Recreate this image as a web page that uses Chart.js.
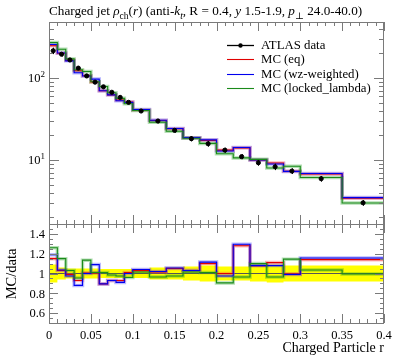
<!DOCTYPE html>
<html>
<head>
<meta charset="utf-8">
<script src="https://cdn.jsdelivr.net/npm/chart.js@4.4.0/dist/chart.umd.min.js"></script>
<style>
  html, body { margin: 0; padding: 0; background: #fff; }
  #wrap { position: relative; width: 397px; height: 358px; }
  #wrap canvas { position: absolute; left: 0; top: 0; }
</style>
</head>
<body>
<div id="wrap">
  <canvas id="mainChart" width="397" height="358"></canvas>
  <canvas id="ratioChart" width="397" height="358"></canvas>
</div>
<script>
// bin edges in r (22 bins)
var binEdges = [0, 0.01, 0.02, 0.03, 0.04, 0.05, 0.06, 0.07, 0.08, 0.09, 0.10,
                0.12, 0.14, 0.16, 0.18, 0.20, 0.22, 0.24, 0.26, 0.28, 0.30, 0.35, 0.40];

// ATLAS data, rho_ch(r)
var dataValues = [215, 195, 166, 132, 106, 89, 78, 67, 58, 50.5, 39.6,
                  29.9, 23.0, 18.2, 15.8, 13.2, 11.0, 9.27, 8.28, 7.34, 5.92, 3.01];
// relative data uncertainty (yellow band)
var dataRelErr = [0.09, 0.06, 0.05, 0.05, 0.05, 0.05, 0.045, 0.045, 0.045, 0.045, 0.045,
                  0.06, 0.06, 0.07, 0.08, 0.07, 0.07, 0.08, 0.09, 0.08, 0.08, 0.08];

// MC / data ratios
var ratioEq     = [1.15, 1.03, 0.99, 0.93, 1.005, 1.005, 0.895, 0.93, 0.93, 1.01, 1.03,
                   1.015, 1.05, 1.03, 1.10, 1.00, 1.28, 1.08, 1.11, 0.995, 1.14, 1.14];
var ratioWz     = [1.19, 1.035, 0.975, 0.88, 1.00, 1.09, 0.895, 0.93, 0.91, 1.00, 1.04,
                   1.02, 1.055, 1.03, 1.115, 0.975, 1.295, 1.08, 1.08, 0.99, 1.157, 1.157];
var ratioLocked = [1.26, 1.15, 1.03, 0.955, 1.135, 1.01, 1.01, 0.985, 0.975, 0.96, 1.015,
                   0.965, 0.975, 1.015, 1.01, 0.905, 0.965, 1.10, 0.965, 1.145, 1.035, 0.995];

var xTickLabels = ['0', '0.05', '0.1', '0.15', '0.2', '0.25', '0.3', '0.35', '0.4'];
var ratioTickLabels = ['0.6', '0.8', '1', '1.2', '1.4'];

var FONT = '"Liberation Serif", "DejaVu Serif", serif';
var FRAME = '#7a7a7a';

// stepped histogram points: one point per left edge + closing point
function stepPoints(vals) {
  var pts = vals.map(function (v, i) { return { x: binEdges[i], y: v }; });
  pts.push({ x: binEdges[binEdges.length - 1], y: vals[vals.length - 1] });
  return pts;
}
function times(a, b) { return a.map(function (v, i) { return v * b[i]; }); }
function centers() {
  return dataValues.map(function (v, i) { return (binEdges[i] + binEdges[i + 1]) / 2; });
}

function histLine(vals, color, width) {
  return {
    type: 'line', data: stepPoints(vals), stepped: true,
    borderColor: color, borderWidth: width, pointRadius: 0, fill: false
  };
}

function drawSegments(ctx, segs, x, y, size) {
  segs.forEach(function (s) {
    var sz = (s.sub || s.sup) ? size * 0.72 : size;
    ctx.font = (s.italic ? 'italic ' : '') + sz + 'px ' + FONT;
    var dy = s.sub ? size * 0.28 : (s.sup ? -size * 0.4 : 0);
    ctx.fillText(s.t, x, y + dy);
    x += ctx.measureText(s.t).width;
  });
  return x;
}

function xTicks(ctx, chart) {
  var a = chart.chartArea, xs = chart.scales.x;
  for (var i = 0; i <= 40; i++) {
    var px = Math.round(xs.getPixelForValue(i / 100)) + 0.5;
    var len = (i % 5 === 0) ? 9 : 4;
    ctx.moveTo(px, a.bottom); ctx.lineTo(px, a.bottom - len);
    ctx.moveTo(px, a.top); ctx.lineTo(px, a.top + len);
  }
}
function yTick(ctx, a, py, len) {
  py = Math.round(py) + 0.5;
  ctx.moveTo(a.left, py); ctx.lineTo(a.left + len, py);
  ctx.moveTo(a.right, py); ctx.lineTo(a.right - len, py);
}

var mainDecor = {
  id: 'mainDecor',
  afterDraw: function (chart) {
    var ctx = chart.ctx, a = chart.chartArea, ys = chart.scales.y;
    ctx.save();
    ctx.strokeStyle = FRAME; ctx.lineWidth = 1;
    ctx.strokeRect(a.left + 0.5, a.top + 0.5, a.right - a.left - 1, a.bottom - a.top);
    ctx.beginPath();
    xTicks(ctx, chart);
    for (var d = 0; d <= 2; d++) {
      for (var k = 1; k <= 9; k++) {
        var v = k * Math.pow(10, d);
        if (v < ys.min || v > ys.max) continue;
        yTick(ctx, a, ys.getPixelForValue(v), k === 1 ? 10 : 5);
      }
    }
    ctx.stroke();

    // data error bars
    ctx.beginPath();
    ctx.strokeStyle = '#000';
    var xs = chart.scales.x, c = centers();
    dataValues.forEach(function (v, i) {
      var px = Math.round(xs.getPixelForValue(c[i])) + 0.5;
      ctx.moveTo(px, ys.getPixelForValue(v * (1 + dataRelErr[i])));
      ctx.lineTo(px, ys.getPixelForValue(v * (1 - dataRelErr[i])));
    });
    ctx.stroke();

    // y tick labels
    ctx.fillStyle = '#000';
    ctx.textAlign = 'left';
    ctx.textBaseline = 'alphabetic';
    [1, 2].forEach(function (p) {
      var py = ys.getPixelForValue(Math.pow(10, p));
      drawSegments(ctx, [{ t: '10' }, { t: String(p), sup: true }], 28, py + 4, 12.5);
    });

    // title
    drawSegments(ctx, [
      { t: 'Charged jet ' }, { t: 'ρ', italic: true }, { t: 'ch', sub: true },
      { t: '(' }, { t: 'r', italic: true }, { t: ') (anti-' }, { t: 'k', italic: true },
      { t: 't', italic: true, sub: true }, { t: ', R = 0.4, ' }, { t: 'y', italic: true },
      { t: ' 1.5-1.9, ' }, { t: 'p', italic: true }, { t: '⊥', sub: true }, { t: ' 24.0-40.0)' }
    ], 49, 15, 13.2);

    // legend
    var items = [
      { label: 'ATLAS data', color: '#000', marker: true },
      { label: 'MC (eq)', color: '#e00000' },
      { label: 'MC (wz-weighted)', color: '#0000ee' },
      { label: 'MC (locked_lambda)', color: '#1a8a1a' }
    ];
    items.forEach(function (it, i) {
      var y = 44.5 + i * 14.6;
      ctx.beginPath();
      ctx.strokeStyle = it.color; ctx.lineWidth = it.marker ? 1.3 : 1.1;
      ctx.moveTo(227, Math.round(y) + 0.5); ctx.lineTo(254, Math.round(y) + 0.5);
      ctx.stroke();
      if (it.marker) {
        ctx.beginPath(); ctx.fillStyle = '#000';
        ctx.arc(240.5, Math.round(y) + 0.5, 2.2, 0, Math.PI * 2); ctx.fill();
      }
      ctx.fillStyle = '#000';
      ctx.font = '12.8px ' + FONT;
      ctx.fillText(it.label, 261, y + 4);
    });
    ctx.restore();
  }
};

var ratioDecor = {
  id: 'ratioDecor',
  afterDraw: function (chart) {
    var ctx = chart.ctx, a = chart.chartArea, xs = chart.scales.x, ys = chart.scales.y;
    ctx.save();
    ctx.strokeStyle = FRAME; ctx.lineWidth = 1;
    ctx.strokeRect(a.left + 0.5, a.top + 0.5, a.right - a.left - 1, a.bottom - a.top);
    ctx.beginPath();
    xTicks(ctx, chart);
    for (var i = 10; i <= 30; i++) {
      var v = i * 0.05;
      if (v < ys.min || v > ys.max) continue;
      var major = (i % 4 === 0);
      yTick(ctx, a, ys.getPixelForValue(v), major ? 9 : 4);
    }
    ctx.stroke();

    ctx.fillStyle = '#000';
    ctx.font = '12.5px ' + FONT;
    ctx.textAlign = 'right';
    ctx.textBaseline = 'middle';
    ratioTickLabels.forEach(function (t) {
      ctx.fillText(t, 45, ys.getPixelForValue(parseFloat(t)) + 1);
    });
    ctx.textAlign = 'center';
    xTickLabels.forEach(function (t) {
      ctx.fillText(t, xs.getPixelForValue(parseFloat(t)), 336);
    });
    ctx.font = '14px ' + FONT;
    ctx.textAlign = 'right';
    ctx.fillText('Charged Particle r', a.right, 348);

    ctx.translate(12, 274);
    ctx.rotate(-Math.PI / 2);
    ctx.textAlign = 'center';
    ctx.font = '14.5px ' + FONT;
    ctx.fillText('MC/data', 0, 0);
    ctx.restore();
  }
};

var xScale = { type: 'linear', min: 0, max: 0.4, display: false };
var baseOpts = {
  responsive: false,
  animation: false,
  plugins: { legend: { display: false }, tooltip: { enabled: false } }
};

// main panel
var mcEq = times(dataValues, ratioEq);
var mcWz = times(dataValues, ratioWz);
var mcLocked = times(dataValues, ratioLocked);
var c = centers();

new Chart(document.getElementById('mainChart').getContext('2d'), {
  type: 'line',
  data: {
    datasets: [
      {
        type: 'scatter',
        data: dataValues.map(function (v, i) { return { x: c[i], y: v }; }),
        backgroundColor: '#000', borderColor: '#000', pointRadius: 2.1, showLine: false
      },
      histLine(mcLocked, '#1a8a1a', 1.1),
      histLine(mcWz, '#0000ee', 1.1),
      histLine(mcEq, '#e00000', 1.1),
      histLine(mcLocked, 'rgba(40,160,40,0.35)', 3.5),
      histLine(mcWz, 'rgba(60,60,255,0.35)', 3.5),
      histLine(mcEq, 'rgba(255,60,60,0.35)', 3.5)
    ]
  },
  options: Object.assign({}, baseOpts, {
    layout: { padding: { left: 49, right: 13, top: 22, bottom: 134 } },
    scales: {
      x: xScale,
      y: { type: 'logarithmic', min: 1.66, max: 482, display: false }
    }
  }),
  plugins: [mainDecor]
});

// ratio panel
var ones = dataValues.map(function () { return 1; });
var bandUp = dataRelErr.map(function (e) { return 1 + e; });
var bandDown = dataRelErr.map(function (e) { return 1 - e; });

new Chart(document.getElementById('ratioChart').getContext('2d'), {
  type: 'line',
  data: {
    datasets: [
      histLine(ratioLocked, '#1a8a1a', 1.1),
      histLine(ratioWz, '#0000ee', 1.1),
      histLine(ratioEq, '#e00000', 1.1),
      histLine(ratioLocked, 'rgba(40,160,40,0.35)', 3.5),
      histLine(ratioWz, 'rgba(60,60,255,0.35)', 3.5),
      histLine(ratioEq, 'rgba(255,60,60,0.35)', 3.5),
      histLine(ones, '#555', 1),
      Object.assign(histLine(bandUp, 'rgba(0,0,0,0)', 0), { fill: '+1', backgroundColor: '#ffff00' }),
      histLine(bandDown, 'rgba(0,0,0,0)', 0)
    ]
  },
  options: Object.assign({}, baseOpts, {
    layout: { padding: { left: 49, right: 13, top: 224, bottom: 35 } },
    scales: {
      x: xScale,
      y: { type: 'linear', min: 0.5, max: 1.5, display: false }
    }
  }),
  plugins: [ratioDecor]
});
</script>
</body>
</html>
